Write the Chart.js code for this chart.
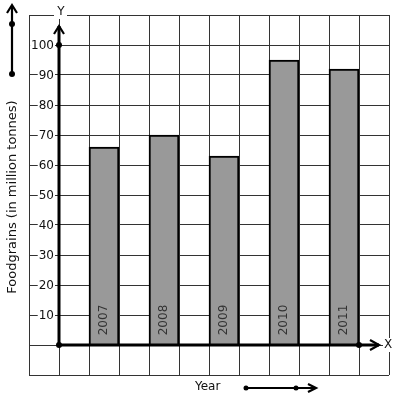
<!DOCTYPE html>
<html><head><meta charset="utf-8">
<script src="https://cdn.jsdelivr.net/npm/chart.js@4/dist/chart.umd.min.js"></script>
<style>html,body{margin:0;padding:0;background:#fff}#wrap{width:397px;height:401px}</style>
</head><body><div id="wrap"><canvas id="c" width="397" height="401"></canvas></div>
<script>
const years = ['2007', '2008', '2009', '2010', '2011'];
const foodgrains = [66, 70, 63, 95, 92];
const yTickLabels = ['10', '20', '30', '40', '50', '60', '70', '80', '90', '100'];
const yTickValues = [10, 20, 30, 40, 50, 60, 70, 80, 90, 100];
const yAxisTitle = 'Foodgrains (in million tonnes)';
const xAxisTitle = 'Year';
const yAxisName = 'Y';
const xAxisName = 'X';

// each year occupies every other grid column, starting at column 1
const points = years.map((y, i) => ({ x: 1.5 + 2 * i, y: foodgrains[i] }));

const FONT = '12px "DejaVu Sans"';

function line(ctx, x1, y1, x2, y2) { ctx.beginPath(); ctx.moveTo(x1, y1); ctx.lineTo(x2, y2); ctx.stroke(); }
function dot(ctx, x, y, r) { ctx.beginPath(); ctx.arc(x, y, r, 0, Math.PI * 2); ctx.fill(); }
function chevronUp(ctx, x, y) { ctx.beginPath(); ctx.moveTo(x - 5, y + 8); ctx.lineTo(x, y); ctx.lineTo(x + 5, y + 8); ctx.stroke(); }
function chevronRight(ctx, x, y, len, h) { ctx.beginPath(); ctx.moveTo(x - len, y - h); ctx.lineTo(x, y); ctx.lineTo(x - len, y + h); ctx.stroke(); }

const deco = {
  id: 'deco',
  afterDraw(chart) {
    const ctx = chart.ctx, xs = chart.scales.x, ys = chart.scales.y;
    const ox = xs.getPixelForValue(0), oy = ys.getPixelForValue(0);
    ctx.save();
    ctx.font = FONT;
    // year labels inside bars
    ctx.fillStyle = '#333';
    ctx.textAlign = 'center'; ctx.textBaseline = 'middle';
    chart.getDatasetMeta(0).data.forEach((bar, i) => {
      ctx.save(); ctx.translate(bar.x, oy - 25); ctx.rotate(-Math.PI / 2);
      ctx.fillText(years[i], 0, 0); ctx.restore();
    });
    // axes
    ctx.strokeStyle = '#000'; ctx.fillStyle = '#000';
    ctx.lineWidth = 3;
    const yTip = ys.getPixelForValue(100) - 19;
    const xTip = xs.getPixelForValue(10) + 20;
    line(ctx, ox, oy, ox, yTip);
    line(ctx, ox, oy, xTip, oy);
    ctx.lineWidth = 2.2;
    chevronUp(ctx, ox, yTip);
    chevronRight(ctx, xTip, oy, 9, 5);
    dot(ctx, ox, oy, 3);
    dot(ctx, ox, ys.getPixelForValue(100), 3);
    dot(ctx, xs.getPixelForValue(10), oy, 3);
    // tick labels with white backdrop
    ctx.textAlign = 'right'; ctx.textBaseline = 'middle';
    yTickValues.forEach((v, i) => {
      const py = ys.getPixelForValue(v);
      const w = ctx.measureText(yTickLabels[i]).width;
      ctx.fillStyle = '#fff';
      ctx.fillRect(ox - 5 - w - 1, py - 6, w + 2, 12);
      ctx.fillStyle = '#111';
      ctx.fillText(yTickLabels[i], ox - 5, py + 0.5);
    });
    // axis names
    ctx.textAlign = 'center';
    ctx.fillStyle = '#fff'; ctx.fillRect(ox - 5, 5, 13, 14);
    ctx.fillStyle = '#111'; ctx.fillText(yAxisName, ox + 2, 12);
    ctx.fillStyle = '#fff'; ctx.fillRect(383, oy - 7, 11, 14);
    ctx.fillStyle = '#111'; ctx.fillText(xAxisName, 388, oy);
    // y axis title
    ctx.save(); ctx.translate(13, 197); ctx.rotate(-Math.PI / 2);
    ctx.font = '13px "DejaVu Sans"';
    ctx.fillText(yAxisTitle, 0, 0); ctx.restore();
    // x axis title
    ctx.textAlign = 'left';
    ctx.fillText(xAxisTitle, 195, 387);
    // decorative arrows
    ctx.strokeStyle = '#000'; ctx.fillStyle = '#000';
    ctx.lineWidth = 2.2;
    line(ctx, 12, 74, 12, 6);
    chevronUp(ctx, 12, 5);
    dot(ctx, 12, 24, 3); dot(ctx, 12, 74, 3);
    line(ctx, 246, 388, 315, 388);
    chevronRight(ctx, 316, 388, 8, 4);
    dot(ctx, 246, 388, 2.5); dot(ctx, 296, 388, 2.5);
    ctx.restore();
  }
};

new Chart(document.getElementById('c'), {
  type: 'bar',
  data: {
    datasets: [{
      data: points,
      backgroundColor: '#999999',
      borderColor: '#000',
      borderWidth: 2,
      borderSkipped: 'start',
      categoryPercentage: 1,
      barPercentage: 1
    }]
  },
  options: {
    responsive: false,
    animation: false,
    layout: { padding: { left: 29, top: 15, right: 8, bottom: 26 } },
    plugins: { legend: { display: false }, tooltip: { enabled: false } },
    scales: {
      x: {
        type: 'linear', min: -1, max: 11, offset: false,
        ticks: { display: false, stepSize: 1 },
        grid: { color: '#333', lineWidth: 1, drawTicks: false, offset: false },
        border: { display: false }
      },
      y: {
        type: 'linear', min: -10, max: 110,
        ticks: { display: false, stepSize: 10 },
        grid: { color: '#333', lineWidth: 1, drawTicks: false },
        border: { display: false }
      }
    }
  },
  plugins: [deco]
});
</script>
</body></html>
